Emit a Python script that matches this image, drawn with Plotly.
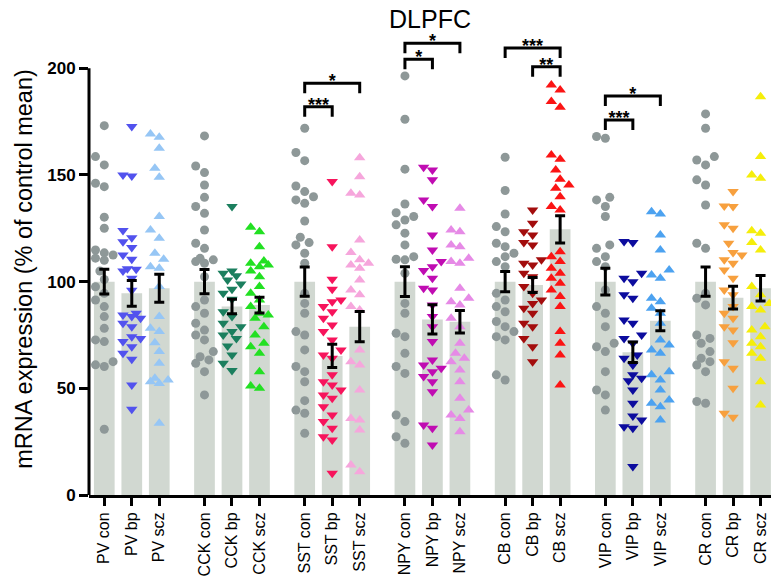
import plotly.graph_objects as go

groups = ["PV", "CCK", "SST", "NPY", "CB", "VIP", "CR"]
conditions = ["con", "bp", "scz"]
tick_labels = [f"{g} {c}" for g in groups for c in conditions]

bar_means = [100, 94.5, 96.9, 100, 88.3, 89.0, 100, 65.2, 78.9, 100, 82.3, 81.2,
             100, 98.4, 124.5, 100, 66.9, 81.7, 100, 92.5, 96.9]
bar_sems = [5.8, 6.0, 6.6, 5.7, 3.4, 3.7, 6.8, 5.5, 7.1, 7.0, 6.9, 5.3,
            4.7, 3.5, 6.4, 6.3, 4.8, 4.7, 6.8, 5.3, 6.0]

pv_con = [173.1, 158.6, 154.7, 146.1, 144.5, 130.2, 125, 114.8, 113.5, 112.5, 111, 110,
          105, 101, 97.6, 94.5, 91.4, 88.3, 83.6, 78.1, 72.7, 71.9, 62.5, 61, 60.2, 30.8]
pv_bp = [172.7, 150, 149.5, 124, 120.6, 118.7, 116, 112.5, 110.5, 106, 105.8, 105, 101.6,
         96, 85.2, 84.4, 83.6, 82.8, 80.5, 78.9, 74.2, 73.4, 71.9, 69.5, 66.4, 63.6, 51.6, 40.2]
pv_scz = [169.2, 167.7, 162.5, 153.1, 148.9, 130.5, 124.2, 120.3, 113.3, 110.5, 107, 106.3,
          97.7, 83.6, 78.1, 76.6, 71.4, 67.2, 61.7, 54.7, 53.9, 53.1, 52.3, 33.6]
cck_con = [168.3, 154.2, 151.1, 145.3, 139.5, 135.2, 132, 124.2, 118, 115.6, 110.9, 110.2,
           109.4, 108.6, 102.3, 91.4, 88.3, 85.2, 80.5, 77.3, 75, 72.7, 67.2, 64.8, 63.3,
           61.7, 57.8, 46.9]
cck_bp = [135.2, 105, 103.9, 102.7, 100.8, 98.9, 96.4, 94.5, 91.7, 85.9, 83.6, 80.5, 78.9,
          76.6, 75, 73.4, 69.8, 65.6, 61.7, 58.3]
cck_scz = [125.5, 123.4, 116.4, 109.7, 108.6, 107.8, 107, 105, 102.3, 97.7, 94.5, 91.4,
           88.3, 85.2, 84.4, 82.8, 78.9, 75, 71.1, 69.5, 66.4, 57.8, 51.1, 50]
sst_con = [171.9, 160.5, 156.7, 144.8, 142.2, 139.8, 138.3, 136.7, 128.4, 120.8, 118.3,
           117.2, 113.3, 108.6, 94.5, 89.8, 85.2, 76.6, 75, 68, 60.2, 57.8, 53.1, 44.2,
           39.8, 38.3, 28.9]
sst_bp = [146.9, 116.4, 101.1, 96.4, 91.4, 90.6, 88.3, 85.9, 82.8, 79.7, 76.6, 72.7, 68,
          65.6, 64.1, 56.3, 53.1, 51.6, 49.2, 46.9, 45.3, 41.4, 37.5, 34.4, 31.3, 27.3,
          25.8, 10.2]
sst_scz = [158.1, 149.2, 141.4, 140.6, 119.5, 113.6, 110.2, 108.6, 107.8, 106.3, 100.8,
           96.1, 93.8, 88.3, 86.7, 68, 62.5, 60.9, 49.2, 35.9, 35.2, 30.5, 14.1, 10.9]
npy_con = [196.4, 176.1, 152.7, 136.4, 132.3, 130.5, 128.9, 126.6, 122.7, 117.2, 111.7,
           110.5, 110.2, 103.9, 89.8, 85.2, 75.8, 74.2, 66.4, 60.2, 57, 37.5, 34.4, 27.3, 24.2]
npy_bp = [153.6, 152.3, 147.7, 138.3, 135.2, 121.9, 114.8, 109.4, 107, 105.2, 101.6, 96.9,
          96.1, 89.1, 83.6, 78.9, 71.9, 63.3, 60.9, 59.4, 57.8, 55.5, 53.1, 48.4, 32.8,
          31.3, 23.4]
npy_scz = [134.4, 124.2, 123.4, 117.2, 116.4, 110.9, 109.4, 108.6, 96.9, 92.2, 90.6, 89.1,
           82.8, 78.9, 71.1, 66.4, 64.1, 62.5, 58.6, 53.1, 45.3, 39.8, 37.5, 35.9, 29.7]
cb_con = [158.3, 142.7, 131.7, 125.8, 123.4, 118, 116.4, 113.3, 111.7, 109.4, 107, 94.5,
          91.4, 88.3, 85.9, 81.3, 78.9, 76.6, 74.2, 72.7, 56.3, 53.9]
cb_bp = [133.6, 127.3, 123.4, 121.9, 118.3, 117.2, 110.2, 108.6, 107.8, 103.9, 102.3, 97.7,
         94.5, 91.4, 89.8, 87.5, 85.2, 80.5, 78.9, 73.4, 69.5, 62.5]
cb_scz = [192.2, 189.8, 184.4, 181.7, 159.4, 157.3, 152.3, 148, 145.3, 143.8, 139.8, 135.2,
          133.6, 114, 111.7, 109.4, 106.3, 103.9, 101.6, 99.2, 96.1, 93, 88.3, 76.6, 71.1,
          65.6, 51.6]
vip_con = [168, 167.2, 139.5, 138.3, 135.2, 130.5, 117.2, 115.6, 111.7, 109.4, 107, 96.1,
           88.3, 85.2, 78.9, 71.1, 69.5, 67.2, 57.8, 49.2, 46.9, 39.8]
vip_bp = [118.8, 118.3, 103.9, 101.6, 100, 93.8, 92.2, 82, 80.5, 75, 73.4, 71.1, 65.6, 64.1,
          60.9, 56.3, 54.7, 53.6, 49.2, 43, 37, 35.2, 32, 31.3, 13.3]
vip_scz = [132.8, 131.7, 121.9, 114.8, 105.5, 103.1, 101.6, 92.2, 90.6, 87.5, 85.2, 80.5,
           72.7, 70.3, 68, 66.4, 57.8, 56.3, 53.9, 49.2, 44.5, 43, 41.4, 35.2]
cr_con = [178.6, 171.9, 158.6, 157, 154.7, 147.7, 145.3, 135.9, 118, 115.6, 94.5, 92.2,
          89.1, 75, 73.4, 71.1, 67.2, 64.1, 62.5, 60.9, 57.8, 43.8, 43]
cr_bp = [142.2, 135.5, 135.2, 126.6, 125, 118, 113.6, 112.5, 110.2, 108.6, 105.5, 101.6,
         96.1, 93.8, 88.3, 85.2, 82.8, 78.9, 77.3, 71.4, 62.5, 59.4, 50, 38.3, 36.4]
cr_scz = [186.7, 158.6, 150, 148.4, 123.9, 122.7, 118.3, 114.8, 97.7, 93.8, 89.8, 88.3,
          86.7, 78.9, 77.3, 74.2, 71.1, 69.5, 66.4, 64.1, 53.1, 42.2]

point_sets = [pv_con, pv_bp, pv_scz, cck_con, cck_bp, cck_scz, sst_con, sst_bp, sst_scz,
              npy_con, npy_bp, npy_scz, cb_con, cb_bp, cb_scz, vip_con, vip_bp, vip_scz,
              cr_con, cr_bp, cr_scz]

# significance: (group index, cond a, cond b, bracket height, stars)
sig_groups = [2, 2, 3, 3, 4, 4, 5, 5]
sig_a = [0, 0, 0, 0, 0, 1, 0, 0]
sig_b = [2, 1, 2, 1, 2, 2, 2, 1]
sig_height = [193, 182, 211.7, 204.2, 209.5, 200.7, 187, 175.8]
sig_stars = ["*", "***", "*", "*", "***", "**", "*", "***"]

con_color = "#8e9898"
bp_colors = ["#5252ee", "#1b7f5e", "#f7145c", "#c00cb2", "#a30d0d", "#0c0c9e", "#f7a03e"]
scz_colors = ["#96c6f5", "#22e022", "#f6a6dc", "#e68ae6", "#fb1414", "#4ca2f0", "#f5ee0a"]
bar_color = "#d1d8d1"

GROUP_STEP = 3.645
BAR_W = 0.753
PX_X = 27.5
PX_Y = 485 / 227.3

W, H = 771, 579
ML, MT, MB = 89, 10, 84
PLOT_W = W - ML


def xpos(g, c):
    return g * GROUP_STEP + c


def swarm(values, diam=9.5, step=0.16):
    placed = []
    res = [0.0] * len(values)
    cands = [0, -step, step, -2 * step, 2 * step]
    order = sorted(range(len(values)), key=lambda i: values[i])
    for i in order:
        v = values[i]
        best = None
        for c in cands:
            if all(((c - px) * PX_X) ** 2 + ((v - pv) * PX_Y) ** 2 >= diam ** 2 for px, pv in placed):
                best = c
                break
        if best is None:
            best = max(cands, key=lambda c: min(((c - px) * PX_X) ** 2 + ((v - pv) * PX_Y) ** 2
                                                for px, pv in placed))
        placed.append((best, v))
        res[i] = best
    return res


fig = go.Figure()

xs = [xpos(g, c) for g in range(len(groups)) for c in range(3)]

fig.add_trace(go.Bar(x=xs, y=bar_means, width=BAR_W, marker=dict(color=bar_color, line=dict(width=0)),
                     showlegend=False, hoverinfo="skip"))

for k, vals in enumerate(point_sets):
    g, c = divmod(k, 3)
    offs = swarm(vals)
    px = [xs[k] + o for o in offs]
    if c == 0:
        marker = dict(symbol="circle", size=9, color=con_color)
    elif c == 1:
        marker = dict(symbol="triangle-down", size=10, color=bp_colors[g])
    else:
        marker = dict(symbol="triangle-up", size=10, color=scz_colors[g])
    fig.add_trace(go.Scatter(x=px, y=vals, mode="markers", marker=marker, showlegend=False,
                             hoverinfo="skip"))

fig.add_trace(go.Scatter(x=xs, y=bar_means, mode="markers", marker=dict(size=1, opacity=0),
                         error_y=dict(type="data", array=bar_sems, visible=True, color="black",
                                      thickness=3, width=5),
                         showlegend=False, hoverinfo="skip"))

LEG = 4.7
for g, a, b, h, s in zip(sig_groups, sig_a, sig_b, sig_height, sig_stars):
    xa, xb = xpos(g, a), xpos(g, b)
    fig.add_trace(go.Scatter(x=[xa, xa, xb, xb], y=[h - LEG, h, h, h - LEG], mode="lines",
                             line=dict(color="black", width=3), showlegend=False, hoverinfo="skip"))
    fig.add_trace(go.Scatter(x=[(xa + xb) / 2], y=[h + 0.2], mode="text", text=[s],
                             textfont=dict(size=18, color="black", family="Liberation Sans",
                                           weight="bold"),
                             textposition="middle center", showlegend=False, hoverinfo="skip"))

fig.add_shape(type="line", xref="paper", x0=0, x1=0, yref="y", y0=0, y1=200,
              line=dict(color="black", width=3))

fig.add_annotation(text="DLPFC", xref="paper", x=(430 - 89) / PLOT_W, yref="y", y=223,
                   showarrow=False, font=dict(size=25, color="black", family="Liberation Sans"),
                   xanchor="center", yanchor="middle")
fig.add_annotation(text="mRNA expression (% of control mean)", xref="paper", x=(24 - 89) / PLOT_W,
                   yref="y", y=106, textangle=-90, showarrow=False,
                   font=dict(size=23.5, color="black", family="Liberation Sans"),
                   xanchor="center", yanchor="middle")

fig.update_layout(
    width=W, height=H,
    margin=dict(l=ML, r=0, t=MT, b=MB, autoexpand=False),
    plot_bgcolor="white", paper_bgcolor="white",
    font=dict(family="Liberation Sans", color="black"),
    showlegend=False,
    xaxis=dict(range=[-0.556, 24.25], showgrid=False, zeroline=False, showline=True,
               linecolor="black", linewidth=3, ticks="outside", ticklen=8, tickwidth=3,
               tickcolor="black", tickvals=xs, ticktext=tick_labels, tickangle=-90,
               tickfont=dict(size=16, color="black", family="Liberation Sans")),
    yaxis=dict(range=[0, 227.3], showgrid=False, zeroline=False, showline=False,
               ticks="outside", ticklen=9, tickwidth=3, tickcolor="black",
               tickvals=[0, 50, 100, 150, 200],
               tickfont=dict(size=17, color="black", family="Liberation Sans", weight="bold")),
)

fig.write_html("out.html", config={"displayModeBar": False, "staticPlot": True},
               post_script="document.body.style.margin='0';document.body.style.overflow='hidden';")
